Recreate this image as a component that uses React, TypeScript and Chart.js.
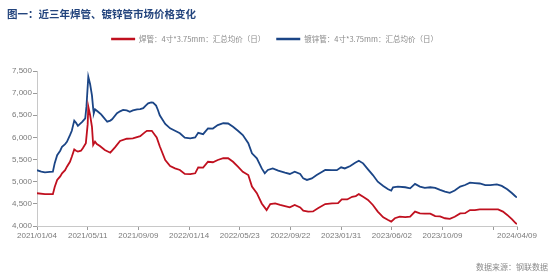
import React, { useEffect, useRef } from "react";
import { Chart, registerables } from "chart.js";

Chart.register(...registerables);

// x = trading-day index from 2021/01/04
const weldDays = [0,13,26,29,33,38,41,46,49,54,57,61,64,67,72,75,80,83,84,87,90,92,95,98,103,111,120,128,136,147,157,169,177,180,188,193,196,201,210,218,226,234,242,251,259,264,272,280,288,296,305,313,321,329,337,346,352,360,368,376,382,390,398,406,414,422,431,436,444,452,460,472,483,493,499,508,516,522,527,534,542,550,558,567,575,580,586,594,603,611,619,627,635,644,652,660,668,676,684,693,701,709,717,725,737,747,755,763,770,778,784,786];
const weldPrice = [4740,4720,4720,4880,5040,5120,5190,5260,5340,5450,5565,5730,5700,5680,5700,5755,5870,6300,6695,6500,6240,5830,5905,5850,5805,5715,5655,5780,5920,5970,5980,6030,6120,6150,6150,6055,6000,5800,5490,5355,5300,5265,5175,5170,5190,5325,5320,5450,5440,5490,5530,5530,5450,5340,5225,5150,4890,4740,4510,4360,4495,4510,4475,4450,4420,4475,4420,4345,4325,4330,4400,4495,4510,4515,4600,4600,4660,4675,4720,4660,4590,4475,4325,4195,4135,4100,4175,4210,4200,4210,4325,4285,4280,4280,4225,4215,4175,4160,4210,4285,4290,4360,4360,4375,4375,4375,4375,4325,4250,4150,4060,4050];

const galvDays = [0,7,13,21,26,29,33,38,41,46,49,54,57,61,64,67,70,74,79,81,84,87,90,92,93,95,100,105,108,115,120,123,131,136,141,147,152,157,164,169,174,178,182,187,190,195,198,201,210,218,226,234,242,251,259,264,272,280,288,296,305,313,321,329,337,346,352,360,368,373,378,386,395,406,414,422,431,436,442,450,458,467,472,483,491,498,504,513,521,527,534,542,550,558,567,575,580,583,591,603,611,619,627,635,644,652,660,668,676,684,693,701,709,717,725,734,742,753,761,770,778,784,786];
const galvPrice = [5260,5230,5210,5220,5225,5420,5600,5700,5790,5850,5900,6050,6150,6380,6330,6260,6300,6350,6430,6700,7370,7200,6950,6650,6545,6635,6580,6520,6470,6355,6380,6410,6545,6590,6620,6610,6580,6610,6635,6640,6660,6720,6770,6790,6785,6720,6620,6500,6305,6205,6150,6095,5995,5980,6000,6105,6075,6205,6200,6280,6320,6315,6240,6150,6055,5870,5640,5530,5300,5190,5265,5300,5250,5205,5175,5225,5175,5075,5040,5075,5150,5225,5265,5260,5260,5325,5300,5355,5430,5475,5415,5280,5150,5000,4905,4830,4800,4875,4890,4875,4850,4950,4890,4860,4875,4860,4815,4775,4750,4800,4890,4925,4980,4970,4960,4925,4925,4940,4905,4830,4740,4660,4650];

const tickDays = [0,83,166,249,332,415,498,581,664,747,786];
const tickLabels = ["2021/01/04","2021/05/11","2021/09/09","2022/01/14","2022/05/23","2022/09/22","2023/01/31","2023/06/02","2023/10/09","","2024/04/09"];

const seriesNames = ["焊管：4寸*3.75mm：汇总均价（日）", "镀锌管：4寸*3.75mm：汇总均价（日）"];
const titleText = "图一：近三年焊管、镀锌管市场价格变化";
const sourceText = "数据来源：钢联数据";

const RED = "#c0101f";
const BLUE = "#1b4586";
const CJK = '"Noto Sans CJK SC", "Noto Sans", sans-serif';

const textPlugin = {
  id: "texts",
  afterDraw(chart: any) {
    const ctx = chart.ctx;
    ctx.save();
    ctx.textBaseline = "middle";
    ctx.textAlign = "left";
    ctx.fillStyle = "#23447d";
    ctx.font = `bold 10.5px ${CJK}`;
    ctx.fillText(titleText, 7, 14);

    // legend
    ctx.font = `7.5px ${CJK}`;
    const colors = [RED, BLUE];
    const w0 = ctx.measureText(seriesNames[0]).width;
    const w1 = ctx.measureText(seriesNames[1]).width;
    const lineW = 24, gap = 4, itemGap = 11;
    const total = lineW + gap + w0 + itemGap + lineW + gap + w1;
    let x = (chart.width - total) / 2;
    const y = 39;
    [w0, w1].forEach((w, i) => {
      ctx.strokeStyle = colors[i];
      ctx.lineWidth = 2.5;
      ctx.beginPath();
      ctx.moveTo(x, y);
      ctx.lineTo(x + lineW, y);
      ctx.stroke();
      ctx.fillStyle = "#8a8a8a";
      ctx.fillText(seriesNames[i], x + lineW + gap, y);
      x += lineW + gap + w + itemGap;
    });

    ctx.font = `8px ${CJK}`;
    ctx.textAlign = "right";
    ctx.fillStyle = "#8a8a8a";
    ctx.fillText(sourceText, 548, 267);
    ctx.restore();
  },
};

export default function App() {
  const ref = useRef<HTMLCanvasElement>(null);
  useEffect(() => {
    if (!ref.current) return;
    const chart = new Chart(ref.current, {
      type: "line",
      data: {
        datasets: [
          {
            label: seriesNames[0],
            data: weldDays.map((d, i) => ({ x: d, y: weldPrice[i] })),
            borderColor: RED,
            borderWidth: 1.8,
            pointRadius: 0,
            tension: 0,
          },
          {
            label: seriesNames[1],
            data: galvDays.map((d, i) => ({ x: d, y: galvPrice[i] })),
            borderColor: BLUE,
            borderWidth: 1.8,
            pointRadius: 0,
            tension: 0,
          },
        ],
      },
      options: {
        responsive: false,
        animation: false,
        devicePixelRatio: 1,
        layout: { padding: { top: 71, right: 32, left: 0, bottom: 0 } },
        plugins: { legend: { display: false }, tooltip: { enabled: false }, title: { display: false } },
        scales: {
          x: {
            type: "linear",
            min: 0,
            max: 786,
            afterBuildTicks: (axis: any) => {
              axis.ticks = tickDays.map((v) => ({ value: v }));
            },
            afterFit: (axis: any) => {
              axis.height = 54;
            },
            grid: { drawOnChartArea: false, drawTicks: true, tickLength: 4, color: "#9a9a9a" },
            border: { color: "#c8c8c8" },
            ticks: {
              autoSkip: false,
              maxRotation: 0,
              padding: 1,
              color: "#7a7a7a",
              font: { size: 8, family: '"Liberation Sans", Arial, sans-serif' },
              callback: (v: any) => {
                const i = tickDays.indexOf(Number(v));
                return i >= 0 ? tickLabels[i] : "";
              },
            },
          },
          y: {
            min: 4000,
            max: 7500,
            afterFit: (axis: any) => {
              axis.width = 37;
            },
            grid: { drawOnChartArea: false, drawTicks: true, tickLength: 4, color: "#9a9a9a" },
            border: { color: "#c8c8c8" },
            ticks: {
              stepSize: 500,
              padding: 1,
              color: "#7a7a7a",
              font: { size: 8, family: '"Liberation Sans", Arial, sans-serif' },
              callback: (v: any) => Number(v).toLocaleString("en-US"),
            },
          },
        },
      },
      plugins: [textPlugin],
    });
    return () => chart.destroy();
  }, []);
  return (
    <div style={{ position: "absolute", left: 0, top: 0, width: 549, height: 280, background: "#fff" }}>
      <canvas ref={ref} width={549} height={280} style={{ width: 549, height: 280, display: "block" }} />
    </div>
  );
}
